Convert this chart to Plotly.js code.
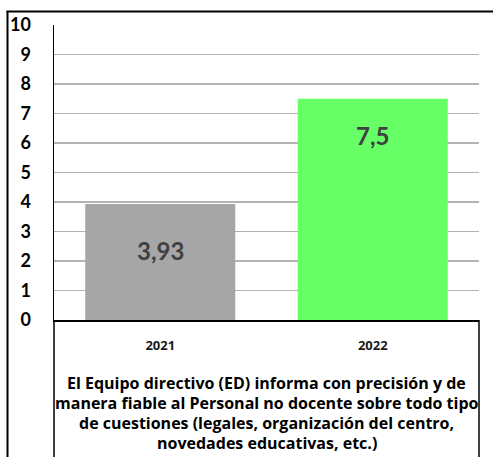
<!DOCTYPE html>
<html>
<head>
<meta charset="utf-8">
<script src="https://cdn.plot.ly/plotly-3.0.1.min.js"></script>
<style>
html,body{margin:0;padding:0;background:#fff;}
#chart{width:493px;height:457px;}
</style>
</head>
<body>
<div id="chart"></div>
<script>
// ---- data ----
const categories = ["2021", "2022"];
const values = [3.93, 7.5];
const valueLabels = ["3,93", "7,5"];
const yTickVals = [0, 1, 2, 3, 4, 5, 6, 7, 8, 9, 10];
const yTickText = ["0", "1", "2", "3", "4", "5", "6", "7", "8", "9", "10"];
const axisTitleLines = [
  "El Equipo directivo (ED) informa con precisión y de",
  "manera fiable al Personal no docente sobre todo tipo",
  "de cuestiones (legales, organización del centro,",
  "novedades educativas, etc.)"
];
const barColors = ["#a6a6a6", "#66ff66"];

// ---- styles ----
const FONT = "Lato, 'Open Sans', sans-serif";
const TITLE_FONT = "'Open Sans', Lato, sans-serif";
const labelShift = [-46, -37];

const trace = {
  type: "bar",
  x: categories,
  y: values,
  marker: {color: barColors, line: {width: 0}},
  hoverinfo: "none"
};

const annotations = values.map((v, i) => ({
  x: i, y: v, xref: "x", yref: "y",
  text: "<b>" + valueLabels[i] + "</b>",
  showarrow: false, yanchor: "middle", yshift: labelShift[i],
  font: {family: FONT, size: 24, color: "#404040"}
}));

axisTitleLines.forEach((line, i) => {
  annotations.push({
    xref: "paper", yref: "paper", x: 0.5, y: 0, yshift: -63 - 20 * i,
    xanchor: "center", yanchor: "middle",
    text: "<b>" + line + "</b>",
    showarrow: false, align: "center",
    font: {family: TITLE_FONT, size: 16, color: "#000"}
  });
});

const W = 425, H = 295; // plot size in px (margins l=54, t=25)
const px = (x) => (x - 54) / W;
const py = (y) => (320 - y) / H;

const shapes = [
  {type: "line", xref: "paper", yref: "paper", x0: px(7.5), x1: px(7.5), y0: py(11), y1: py(470), line: {color: "#000", width: 2}},
  {type: "line", xref: "paper", yref: "paper", x0: px(6.5), x1: px(500), y0: py(11.5), y1: py(11.5), line: {color: "#000", width: 2}},
  {type: "line", xref: "paper", yref: "paper", x0: 0, x1: 0, y0: 0, y1: py(470), line: {color: "#000", width: 1.5}},
  {type: "line", xref: "paper", yref: "paper", x0: 1, x1: 1, y0: 0, y1: py(470), line: {color: "#000", width: 1.5}}
];

const layout = {
  width: 493, height: 457,
  margin: {l: 54, r: 14, t: 25, b: 137},
  paper_bgcolor: "#fff", plot_bgcolor: "#fff",
  showlegend: false,
  bargap: 0.294,
  font: {family: FONT, color: "#000"},
  xaxis: {
    type: "category",
    range: [-0.5, categories.length - 0.5], autorange: false,
    showline: true, linecolor: "#000", linewidth: 2,
    showgrid: false, zeroline: false,
    ticks: "", ticklabelstandoff: 12,
    tickfont: {family: TITLE_FONT, size: 13, color: "#1a1a1a", weight: "bold"},
    fixedrange: true
  },
  yaxis: {
    range: [0, 10], autorange: false,
    tickvals: yTickVals, ticktext: yTickText,
    showline: true, linecolor: "#000", linewidth: 1.5,
    showgrid: true, gridcolor: "#b3b3b3", gridwidth: 1.5,
    zeroline: false, ticks: "", ticklabelstandoff: 18,
    tickfont: {family: FONT, size: 18, color: "#000", weight: "bold"},
    fixedrange: true
  },
  annotations: annotations,
  shapes: shapes
};

Plotly.newPlot("chart", [trace], layout, {displayModeBar: false, staticPlot: true});
</script>
</body>
</html>
